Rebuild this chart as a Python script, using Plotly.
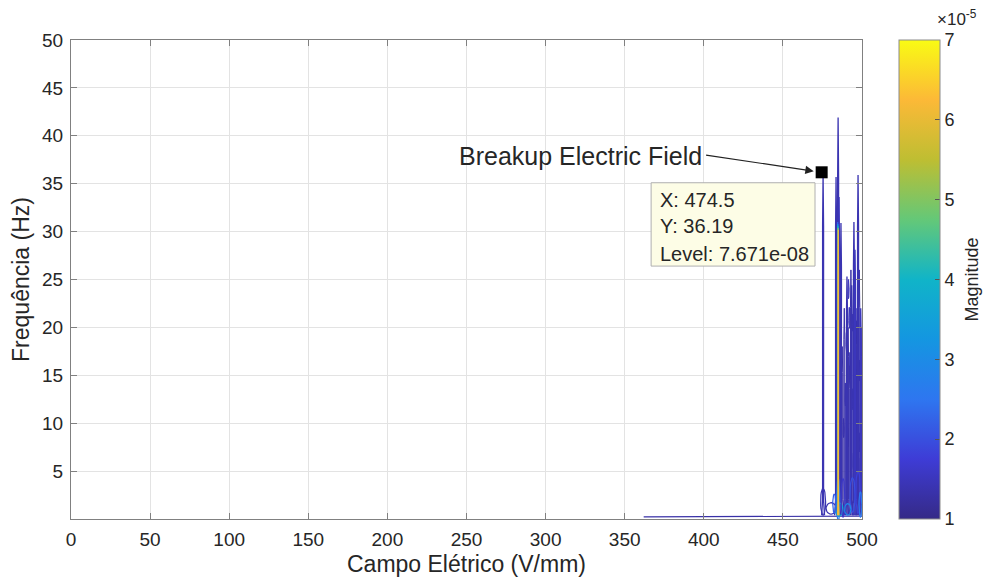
import numpy as np
import plotly.graph_objects as go
from plotly.colors import sample_colorscale

# ---------------- data ----------------
x_ticks = [0, 50, 100, 150, 200, 250, 300, 350, 400, 450, 500]
y_ticks = [5, 10, 15, 20, 25, 30, 35, 40, 45, 50]
cbar_ticks = [1, 2, 3, 4, 5, 6, 7]          # x 1e-5

# tall contour spikes: electric field (V/mm), peak frequency (Hz), contour level (x1e-5)
spike_field = [475.4, 483.6, 484.9, 485.5, 486.7, 490.5, 493.5, 494.9, 495.6, 497.5, 499.2]
spike_peak  = [36.0, 35.7, 41.9, 33.6, 30.9, 25.3, 24.4, 31.0, 28.1, 35.9, 22.0]
spike_level = [1.4, 1.4, 1.4, 1.5, 1.4, 1.4, 1.4, 1.4, 1.5, 1.4, 1.5]

# shorter spikes in the dense region
short_field = [487.5, 488.8, 489.8, 491.2, 492.3, 493.0, 496.2, 497.0, 498.3, 499.4]
short_peak  = [18.0, 22.0, 14.0, 20.0, 16.0, 26.0, 22.0, 18.0, 26.0, 20.0]
short_level = [1.3, 1.3, 1.4, 1.3, 1.4, 1.3, 1.3, 1.4, 1.3, 1.3]

# nested higher-level contours inside the main spike
inner_field = [484.6, 484.7, 484.8, 484.9, 485.0]
inner_peak  = [31.0, 30.8, 30.6, 30.4, 30.2]
inner_level = [2.2, 3.2, 4.0, 5.0, 6.2]

# small closed contours near the base: field, freq, half-width, half-height, level
blob_field = [475.4, 480.5, 485.0, 485.5, 488.0, 494.0, 497.5, 499.0, 482.5, 491.0]
blob_freq  = [1.8, 1.1, 2.0, 1.0, 2.2, 2.5, 2.8, 1.5, 1.6, 1.0]
blob_dx    = [1.6, 3.2, 1.0, 2.4, 1.2, 1.6, 1.4, 0.9, 1.0, 2.0]
blob_dy    = [1.4, 0.6, 2.2, 0.7, 2.0, 1.8, 2.2, 1.3, 1.0, 0.6]
blob_level = [1.4, 1.4, 2.6, 3.6, 1.6, 2.0, 1.8, 2.6, 2.2, 3.0]

# dark dense contour fragments in the 488-500 V/mm band
dash_field = [489.5, 491.0, 492.4, 493.8, 494.6, 495.8, 497.0, 498.2, 499.2, 490.2,
              492.0, 493.2, 496.4, 497.8, 499.0, 491.5, 495.0, 498.6, 488.4, 494.2]
dash_freq  = [13.0, 8.5, 16.0, 12.5, 6.0, 10.0, 14.5, 8.0, 11.0, 18.5,
              21.0, 4.5, 19.5, 23.0, 5.5, 24.0, 17.0, 15.5, 9.5, 20.5]
dash_len   = [1.2, 1.0, 1.4, 1.1, 0.9, 1.3, 1.2, 1.0, 1.2, 1.0,
              1.1, 0.8, 1.2, 1.0, 0.9, 1.0, 1.2, 1.1, 1.0, 0.9]

# low contour hugging the axis
ground_field = [362.0, 478.0, 500.0]
ground_freq  = [0.22, 0.28, 0.3]
ground_level = 1.3

tip_x, tip_y, tip_level = 474.5, 36.19, 7.671e-08

# ---------------- styling ----------------
parula = [
    [0.0, "rgb(53,42,135)"],
    [0.125, "rgb(62,60,214)"],
    [0.25, "rgb(46,118,240)"],
    [0.375, "rgb(20,150,225)"],
    [0.5, "rgb(16,180,200)"],
    [0.625, "rgb(100,200,120)"],
    [0.75, "rgb(190,190,50)"],
    [0.875, "rgb(252,185,55)"],
    [1.0, "rgb(249,251,20)"],
]
cmin, cmax = 1.0, 7.0
FONT = "Liberation Sans, Arial, Helvetica, sans-serif"
TXT = "#262626"


def lvl_color(v):
    t = min(max((v - cmin) / (cmax - cmin), 0), 1)
    return sample_colorscale(parula, [t])[0]


fig = go.Figure()

# ground contour
fig.add_trace(go.Scatter(x=ground_field, y=ground_freq, mode="lines",
                         line=dict(color=lvl_color(ground_level), width=1.2),
                         hoverinfo="skip", showlegend=False))

theta = np.linspace(0, 2 * np.pi, 25)

# dark filled fragments
for fx, fy, hl in zip(dash_field, dash_freq, dash_len):
    fig.add_trace(go.Scatter(x=fx + 0.35 * np.cos(theta), y=fy + hl * np.sin(theta),
                             mode="lines", fill="toself", fillcolor="rgba(55,50,190,0.7)",
                             line=dict(color=lvl_color(1.5), width=1),
                             hoverinfo="skip", showlegend=False))


def spike(fx, top, w):
    xs = [fx - 3 * w, fx - w, fx - w, fx, fx + w, fx + w, fx + 3 * w]
    ys = [0.4, 2.0, top * 0.85, top, top * 0.85, 2.0, 0.4]
    return xs, ys


for fx, top, lv in zip(short_field, short_peak, short_level):
    xs, ys = spike(fx, top, 0.3)
    fig.add_trace(go.Scatter(x=xs, y=ys, mode="lines",
                             line=dict(color=lvl_color(lv), width=1.0),
                             hoverinfo="skip", showlegend=False))

for fx, top, lv in zip(spike_field, spike_peak, spike_level):
    xs, ys = spike(fx, top, 0.3)
    fig.add_trace(go.Scatter(x=xs, y=ys, mode="lines",
                             line=dict(color=lvl_color(lv), width=1.3),
                             hoverinfo="skip", showlegend=False))

# blobs near the base
for fx, fy, dx, dy, lv in zip(blob_field, blob_freq, blob_dx, blob_dy, blob_level):
    fig.add_trace(go.Scatter(x=fx + dx * np.cos(theta), y=fy + dy * np.sin(theta),
                             mode="lines", line=dict(color=lvl_color(lv), width=1.2),
                             hoverinfo="skip", showlegend=False))

for fx, top, lv in zip(inner_field, inner_peak, inner_level):
    xs, ys = spike(fx, top, 0.12)
    fig.add_trace(go.Scatter(x=xs, y=ys, mode="lines",
                             line=dict(color=lvl_color(lv), width=1.3),
                             hoverinfo="skip", showlegend=False))

# data-tip marker
fig.add_trace(go.Scatter(x=[tip_x], y=[tip_y], mode="markers",
                         marker=dict(symbol="square", size=12, color="black"),
                         hoverinfo="skip", showlegend=False))

# colorbar carrier
fig.add_trace(go.Scatter(
    x=[250], y=[-100], mode="markers", hoverinfo="skip", showlegend=False,
    marker=dict(size=1, color=[cmin], colorscale=parula, cmin=cmin, cmax=cmax,
                showscale=True,
                colorbar=dict(x=1.0468, xanchor="left", xpad=0, ypad=0,
                              y=0.5, yanchor="middle", len=1, lenmode="fraction",
                              thickness=41, thicknessmode="pixels",
                              outlinewidth=1, outlinecolor="#8c8c8c",
                              tickvals=cbar_ticks, ticktext=[str(t) for t in cbar_ticks],
                              ticks="inside", ticklen=5, tickcolor="#555",
                              tickfont=dict(size=18, color=TXT, family=FONT)))))

# data tip box
box_x0, box_x1, box_y0, box_y1 = 366.7, 470.3, 26.4, 35.1
fig.add_shape(type="rect", xref="x", yref="y", x0=box_x0, x1=box_x1, y0=box_y0, y1=box_y1,
              fillcolor="#fdfde6", line=dict(color="#b0b0b0", width=1), layer="above")
tip_lines = [f"X: {tip_x}", f"Y: {tip_y}", f"Level: {tip_level:.3e}"]
for txt, yy in zip(tip_lines, [33.3, 30.55, 27.7]):
    fig.add_annotation(x=371, y=yy, xref="x", yref="y", text=txt, showarrow=False,
                       xanchor="left", yanchor="middle",
                       font=dict(size=20, color=TXT, family=FONT))

# arrow + label
fig.add_annotation(x=tip_x, y=tip_y, xref="x", yref="y", ax=400.5, ay=38.0,
                   axref="x", ayref="y", text="", showarrow=True,
                   arrowhead=2, arrowsize=1.4, arrowwidth=1.2, arrowcolor="#222",
                   standoff=8)
fig.add_annotation(x=400, y=37.9, xref="x", yref="y", text="Breakup Electric Field",
                   showarrow=False, xanchor="right", yanchor="middle",
                   font=dict(size=25, color=TXT, family=FONT))

# colorbar exponent and title
fig.add_annotation(x=1.12, y=1.045, xref="paper", yref="paper", text="×10<sup>-5</sup>",
                   showarrow=False, xanchor="center", yanchor="middle",
                   font=dict(size=17, color=TXT, family=FONT))
fig.add_annotation(x=1.139, y=0.5, xref="paper", yref="paper", text="Magnitude",
                   showarrow=False, textangle=-90, xanchor="center", yanchor="middle",
                   font=dict(size=18, color=TXT, family=FONT))

axis_common = dict(showline=True, linecolor="#808080", linewidth=1, mirror="ticks",
                   ticks="inside", ticklen=6, tickcolor="#808080",
                   showgrid=True, gridcolor="#e3e3e3", gridwidth=1, zeroline=False,
                   tickfont=dict(size=19, color=TXT, family=FONT))

fig.update_layout(
    width=975, height=569, autosize=False,
    margin=dict(l=63, r=121, t=32, b=58, pad=0, autoexpand=False),
    paper_bgcolor="white", plot_bgcolor="white",
    font=dict(family=FONT, color=TXT),
    xaxis=dict(range=[0, 500], tickvals=x_ticks, ticklabelstandoff=3,
               title=dict(text="Campo Elétrico (V/mm)", font=dict(size=23, color=TXT, family=FONT),
                          standoff=10),
               **axis_common),
    yaxis=dict(range=[0, 50], tickvals=y_ticks, ticklabelstandoff=3,
               title=dict(text="Frequência (Hz)", font=dict(size=23, color=TXT, family=FONT),
                          standoff=6),
               **axis_common),
)

fig.write_html("out.html")
